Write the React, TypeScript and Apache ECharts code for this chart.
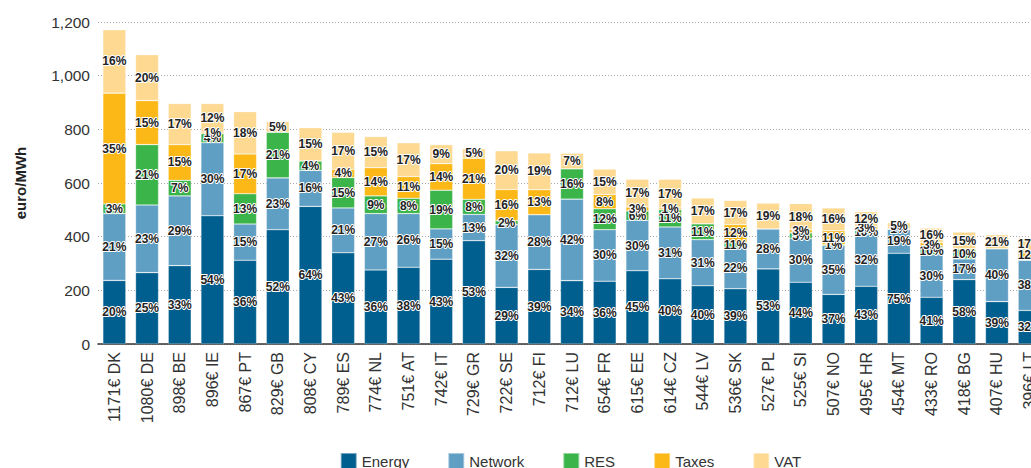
import React, { useEffect, useRef } from "react";
import * as echarts from "echarts";

const countries = ["DK","DE","BE","IE","PT","GB","CY","ES","NL","AT","IT","GR","SE","FI","LU","FR","EE","CZ","LV","SK","PL","SI","NO","HR","MT","RO","BG","HU","LT"];
const totals = [1171,1080,898,896,867,829,808,789,774,751,742,729,722,712,712,654,615,614,544,536,527,525,507,495,454,433,418,407,396];

const energy = [237,266,292,478,312,426,513,340,276,286,316,385,211,278,236,234,273,243,217,206,280,230,185,215,338,174,240,158,125];
const network = [249,252,260,272,135,193,134,167,210,200,113,98,234,204,304,192,188,193,172,152,149,163,181,194,89,159,77,197,187];
const res = [36,225,58,34,113,170,35,113,66,57,144,56,15,0,113,78,35,65,59,21,0,21,4,15,0,28,37,0,0];
const taxes = [413,164,133,5,148,0,0,31,105,81,99,153,116,93,0,53,15,6,0,66,0,12,52,13,3,17,0,0,36];
const vat = [236,171,153,107,158,40,124,138,116,126,71,36,144,137,58,95,103,107,96,90,96,97,85,56,22,54,63,52,47];

const energyPct = [20,25,33,54,36,52,64,43,36,38,43,53,29,39,34,36,45,40,40,39,53,44,37,43,75,41,58,39,32];
const networkPct = [21,23,29,30,15,23,16,21,27,26,15,13,32,28,42,30,30,31,31,22,28,30,35,32,19,30,17,40,38];
const resPct = [3,21,7,4,13,21,4,15,9,8,19,8,2,null,16,12,6,11,11,11,null,5,1,10,null,10,10,null,null];
const taxesPct = [35,15,15,1,17,null,null,4,14,11,14,21,16,13,null,8,3,1,null,12,null,3,11,3,1,3,null,null,12];
const vatPct = [16,20,17,12,18,5,15,17,15,17,9,5,20,19,7,15,17,17,17,17,19,18,16,12,5,16,15,21,17];

const seriesNames = ["Energy", "Network", "RES", "Taxes", "VAT"];
const seriesColors = ["#005f8e", "#609fc4", "#3bb44a", "#fbb817", "#fdd991"];

export default function App() {
  const ref = useRef<HTMLDivElement>(null);
  useEffect(() => {
    if (!ref.current) return;
    const chart = echarts.init(ref.current, null, { renderer: "svg" });
    const values = [energy, network, res, taxes, vat];
    const pcts = [energyPct, networkPct, resPct, taxesPct, vatPct];
    const categories = countries.map((c, i) => `${totals[i]}€ ${c}`);
    const font = "'Liberation Sans', Arial, sans-serif";
    chart.setOption({
      animation: false,
      backgroundColor: "#ffffff",
      grid: { left: 98, right: 95, top: 22, height: 322 },
      legend: {
        data: seriesNames,
        top: 447,
        left: "center",
        icon: "rect",
        itemWidth: 16,
        itemHeight: 16,
        itemGap: 38,
        textStyle: { fontSize: 15, color: "#333", fontFamily: font },
      },
      xAxis: {
        type: "category",
        data: categories,
        axisLine: { lineStyle: { color: "#333", width: 1.5 } },
        axisTick: { show: false },
        axisLabel: {
          rotate: 90,
          margin: 8,
          fontSize: 16,
          color: "#333",
          fontFamily: font,
        },
      },
      yAxis: {
        type: "value",
        min: 0,
        max: 1200,
        interval: 200,
        name: "euro/MWh",
        nameLocation: "middle",
        nameRotate: 90,
        nameGap: 70,
        nameTextStyle: { fontSize: 15, fontWeight: "bold", color: "#222", fontFamily: font },
        axisLine: { show: false },
        axisTick: { show: false },
        axisLabel: {
          margin: 8,
          fontSize: 15.5,
          color: "#333",
          fontFamily: font,
          formatter: (v: number) => v.toLocaleString("en-US"),
        },
        splitLine: { lineStyle: { color: "#aaaaaa", type: [1, 2], width: 1 } },
      },
      series: seriesNames.map((name, si) => ({
        name,
        type: "bar",
        stack: "total",
        barWidth: 23,
        itemStyle: { color: seriesColors[si], borderColor: "rgba(255,255,255,0.45)", borderWidth: 0.6 },
        data: values[si].map((v, i) => ({
          value: v,
          label: {
            show: pcts[si][i] !== null && v > 0,
            formatter: `${pcts[si][i]}%`,
          },
        })),
        label: {
          position: "inside",
          fontSize: 12,
          fontWeight: "bold",
          color: "#222",
          textBorderColor: "#ffffff",
          textBorderWidth: 2,
          fontFamily: font,
        },
      })),
    });
    return () => chart.dispose();
  }, []);
  return (
    <div
      ref={ref}
      style={{ position: "fixed", left: 0, top: 0, width: 1141, height: 490, background: "#fff" }}
    />
  );
}
